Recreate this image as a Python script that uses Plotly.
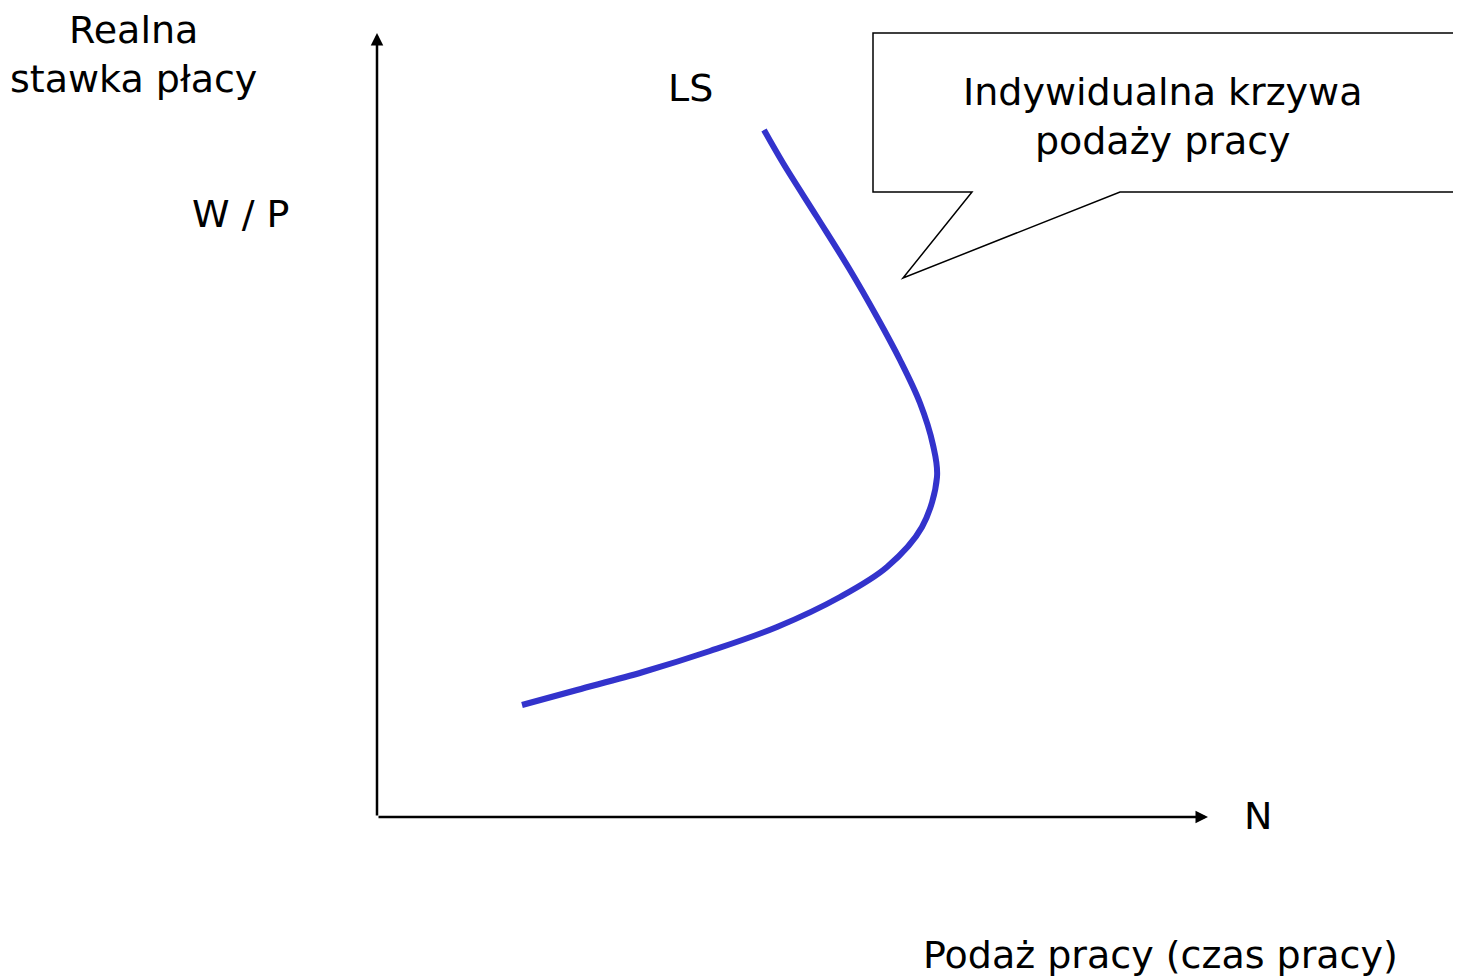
import plotly.graph_objects as go

# Labour supply curve (LS), backward-bending, in arbitrary units
# origin of the axes = (0, 0)
hours = [145, 200, 266, 333, 400, 463, 510, 545, 560, 556, 543, 523, 500, 473, 440, 406, 387]
real_wage = [112, 127, 145, 166, 190, 220, 250, 290, 340, 372, 414, 457, 500, 547, 600, 654, 687]

FONT = "DejaVu Sans"

fig = go.Figure()

# Individual labour supply curve
fig.add_trace(go.Scatter(
    x=hours, y=real_wage, mode="lines",
    line=dict(color="#3333CC", width=6, shape="spline", smoothing=1.0),
    hoverinfo="skip", showlegend=False,
))

# Axes drawn as arrows
fig.add_annotation(x=0, y=784, ax=0, ay=0, xref="x", yref="y", axref="x", ayref="y",
                   text="", showarrow=True, arrowhead=2, arrowsize=1, arrowwidth=2.5,
                   arrowcolor="black")
fig.add_annotation(x=831, y=0, ax=0, ay=0, xref="x", yref="y", axref="x", ayref="y",
                   text="", showarrow=True, arrowhead=2, arrowsize=1, arrowwidth=2.5,
                   arrowcolor="black")

# Callout box with pointer
fig.add_shape(type="path",
              path="M 496 784 L 1100 784 L 1100 625 L 743 625 L 526 539 L 595 625 L 496 625 Z",
              xref="x", yref="y", line=dict(color="black", width=1.5),
              fillcolor="white", layer="above")

txt = dict(showarrow=False, font=dict(family=FONT, size=38, color="black"),
           xref="x", yref="y")
fig.add_annotation(x=785, y=701, text="Indywidualna krzywa<br>podaży pracy",
                   align="center", **txt)
fig.add_annotation(x=-244, y=763, text="Realna<br>stawka płacy", align="center", **txt)
fig.add_annotation(x=-137, y=603, text="W / P", **txt)
fig.add_annotation(x=313, y=729, text="LS", **txt)
fig.add_annotation(x=881, y=1, text="N", **txt)
fig.add_annotation(x=783, y=-138, text="Podaż pracy (czas pracy)", **txt)

# ranges offset by 8 px to compensate for the page's body margin
fig.update_xaxes(range=[-369, 1092], visible=False)
fig.update_yaxes(range=[-171, 809], visible=False)
fig.update_layout(
    width=1461, height=980,
    margin=dict(l=0, r=0, t=0, b=0),
    plot_bgcolor="white", paper_bgcolor="white",
    font=dict(family=FONT),
)

fig.write_html("out.html")
